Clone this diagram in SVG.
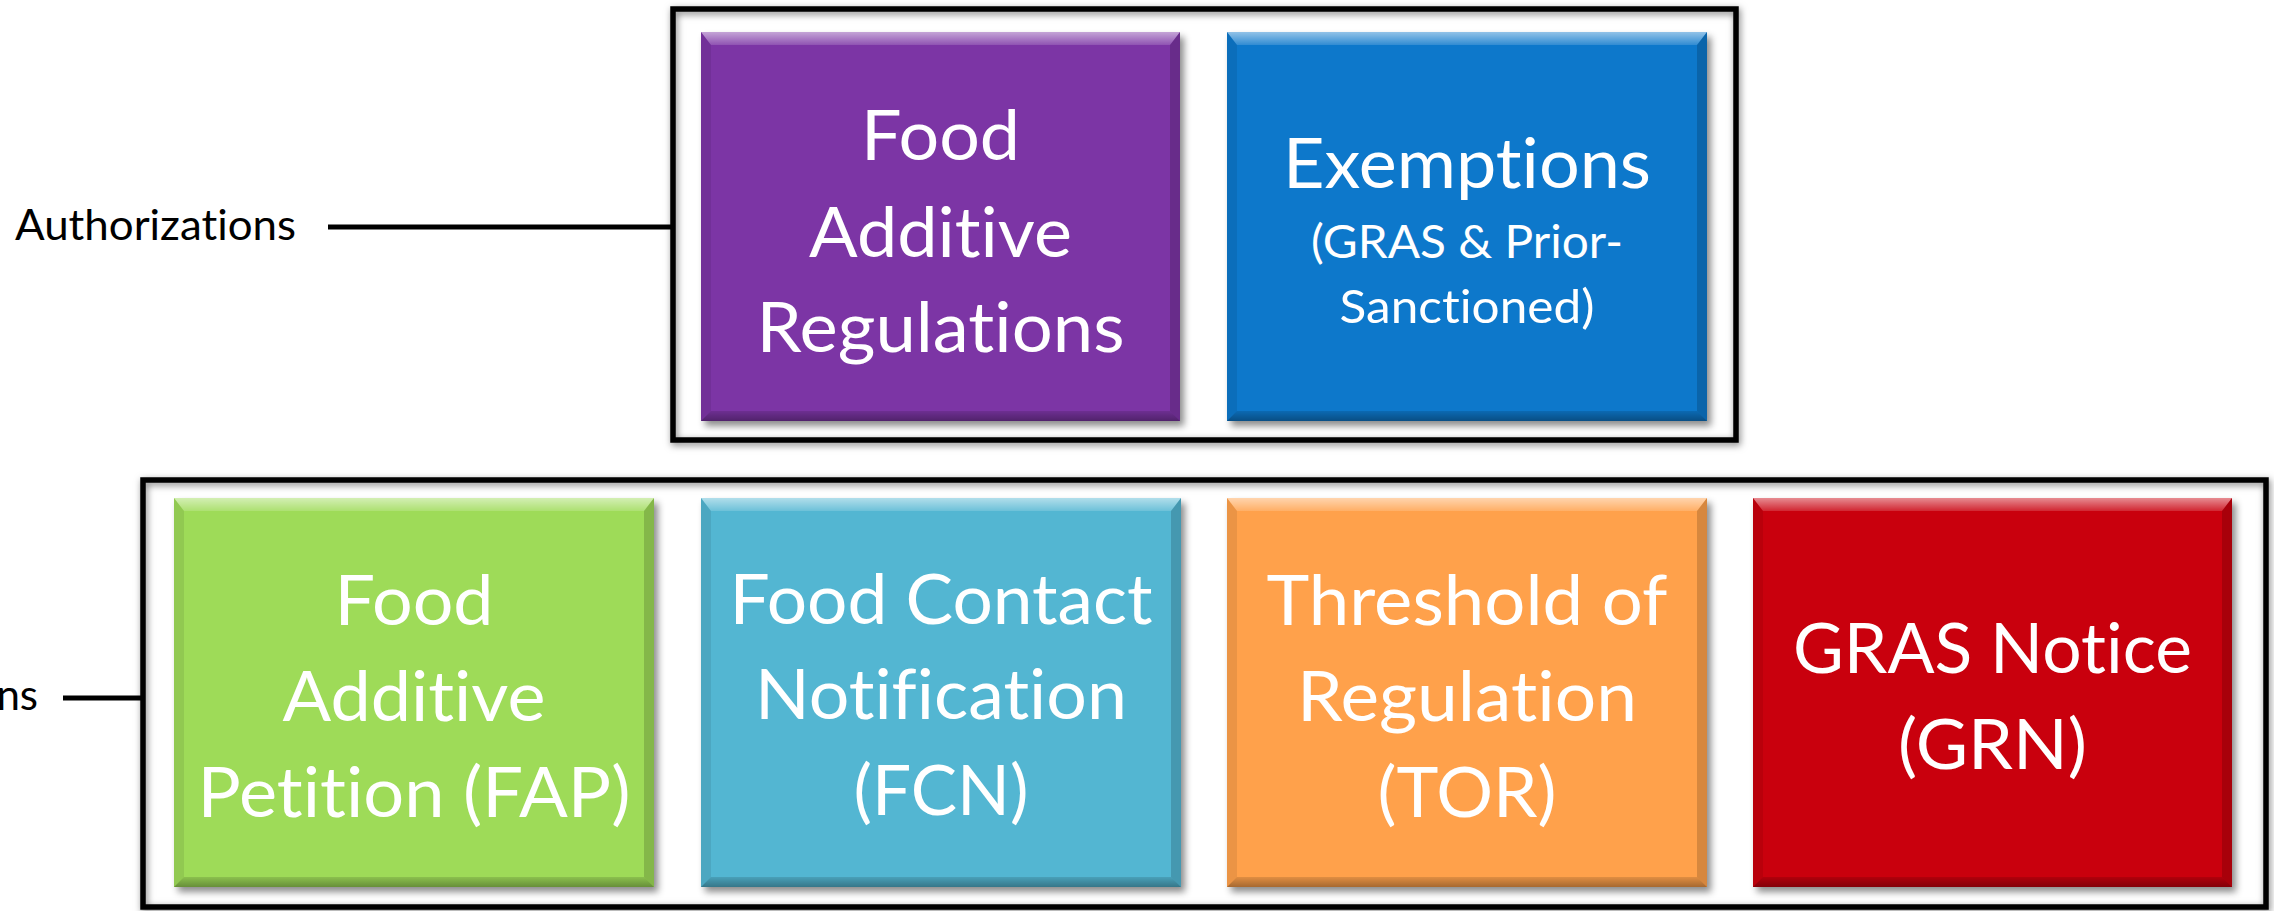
<svg xmlns="http://www.w3.org/2000/svg" width="2274" height="911" viewBox="0 0 2274 911">
  <defs>
    <filter id="boxShadow" x="-10%" y="-10%" width="125%" height="125%">
      <feDropShadow dx="4" dy="5" stdDeviation="3.5" flood-color="#000" flood-opacity="0.45"/>
    </filter>
    <filter id="frameShadow" x="-5%" y="-10%" width="110%" height="125%">
      <feDropShadow dx="1.5" dy="2.5" stdDeviation="3.5" flood-color="#000" flood-opacity="0.5"/>
    </filter>
    <linearGradient id="bevelTop" x1="0" y1="0" x2="0" y2="1">
      <stop offset="0" stop-color="#fff" stop-opacity="0.55"/>
      <stop offset="1" stop-color="#fff" stop-opacity="0.15"/>
    </linearGradient>
    <linearGradient id="bevelBottom" x1="0" y1="0" x2="0" y2="1">
      <stop offset="0" stop-color="#000" stop-opacity="0.12"/>
      <stop offset="1" stop-color="#000" stop-opacity="0.35"/>
    </linearGradient>
  </defs>
  <style>
    text { font-variant-ligatures: none; font-feature-settings: "liga" 0, "clig" 0; }
    .frame { fill: none; stroke: #000; stroke-width: 5.5; }
    .link { stroke: #000; stroke-width: 5; fill: none; }
    .label { font-family: Lato, "Open Sans", "Liberation Sans", sans-serif; font-size: 42px; fill: #000; }
    .big { font-family: Lato, "Open Sans", "Liberation Sans", sans-serif; font-size: 70px; fill: #fff; text-anchor: middle; }
    .small { font-family: Lato, "Open Sans", "Liberation Sans", sans-serif; font-size: 47px; fill: #fff; text-anchor: middle; }
    .top { fill: url(#bevelTop); }
    .bot { fill: url(#bevelBottom); }
    .side { fill: #000; fill-opacity: 0.08; }
    .rside { fill: #000; fill-opacity: 0.16; }
  </style>

  <rect width="2274" height="911" fill="#fff"/>

  <!-- side labels -->
  <g id="label-authorizations">
    <text class="label" x="15" y="240" textLength="281" lengthAdjust="spacingAndGlyphs">Authorizations</text>
  </g>
  <g id="label-submissions">
    <text class="label" x="38" y="710" text-anchor="end">ns</text>
  </g>

  <!-- group frames -->
  <g id="frame-authorizations" filter="url(#frameShadow)">
    <rect class="frame" x="673" y="9" width="1063" height="431"/>
  </g>
  <g id="frame-submissions" filter="url(#frameShadow)">
    <rect class="frame" x="143" y="480" width="2123" height="427"/>
  </g>

  <!-- connectors from labels to frames -->
  <g id="connectors">
    <line class="link" x1="328" y1="227" x2="673" y2="227"/>
    <line class="link" x1="63" y1="698" x2="143" y2="698"/>
  </g>

  <!-- top row -->
  <g id="node-fa-regulations">
    <g filter="url(#boxShadow)"><rect x="701" y="32" width="479" height="389" fill="#7B35A5"/></g>
    <polygon class="top" points="701,32 1180,32 1170,45 711,45"/>
    <polygon class="bot" points="701,421 1180,421 1170,411 711,411"/>
    <polygon class="side" points="701,32 711,45 711,411 701,421"/>
    <polygon class="rside" points="1180,32 1170,45 1170,411 1180,421"/>
    <text class="big" x="940.5" y="160" textLength="159" lengthAdjust="spacingAndGlyphs">Food</text>
    <text class="big" x="940.5" y="257" textLength="263" lengthAdjust="spacingAndGlyphs">Additive</text>
    <text class="big" x="940.5" y="352" textLength="368" lengthAdjust="spacingAndGlyphs">Regulations</text>
  </g>
  <g id="node-exemptions">
    <g filter="url(#boxShadow)"><rect x="1227" y="32" width="480" height="389" fill="#0878CB"/></g>
    <polygon class="top" points="1227,32 1707,32 1697,45 1237,45"/>
    <polygon class="bot" points="1227,421 1707,421 1697,411 1237,411"/>
    <polygon class="side" points="1227,32 1237,45 1237,411 1227,421"/>
    <polygon class="rside" points="1707,32 1697,45 1697,411 1707,421"/>
    <text class="big" x="1467" y="188" textLength="368" lengthAdjust="spacingAndGlyphs">Exemptions</text>
    <text class="small" x="1467" y="258" textLength="312" lengthAdjust="spacingAndGlyphs">(GRAS &amp; Prior-</text>
    <text class="small" x="1467" y="323" textLength="255" lengthAdjust="spacingAndGlyphs">Sanctioned)</text>
  </g>

  <!-- bottom row -->
  <g id="node-fap">
    <g filter="url(#boxShadow)"><rect x="174" y="498" width="480" height="389" fill="#9EDB58"/></g>
    <polygon class="top" points="174,498 654,498 644,511 184,511"/>
    <polygon class="bot" points="174,887 654,887 644,877 184,877"/>
    <polygon class="side" points="174,498 184,511 184,877 174,887"/>
    <polygon class="rside" points="654,498 644,511 644,877 654,887"/>
    <text class="big" x="414" y="625" textLength="159" lengthAdjust="spacingAndGlyphs">Food</text>
    <text class="big" x="414" y="721" textLength="263" lengthAdjust="spacingAndGlyphs">Additive</text>
    <text class="big" x="414" y="817" textLength="433" lengthAdjust="spacingAndGlyphs">Petition (FAP)</text>
  </g>
  <g id="node-fcn">
    <g filter="url(#boxShadow)"><rect x="701" y="498" width="480" height="389" fill="#53B6D2"/></g>
    <polygon class="top" points="701,498 1181,498 1171,511 711,511"/>
    <polygon class="bot" points="701,887 1181,887 1171,877 711,877"/>
    <polygon class="side" points="701,498 711,511 711,877 701,887"/>
    <polygon class="rside" points="1181,498 1171,511 1171,877 1181,887"/>
    <text class="big" x="941" y="624" textLength="423" lengthAdjust="spacingAndGlyphs">Food Contact</text>
    <text class="big" x="941" y="719" textLength="372" lengthAdjust="spacingAndGlyphs">Notification</text>
    <text class="big" x="941" y="815" textLength="175" lengthAdjust="spacingAndGlyphs">(FCN)</text>
  </g>
  <g id="node-tor">
    <g filter="url(#boxShadow)"><rect x="1227" y="498" width="480" height="389" fill="#FFA14C"/></g>
    <polygon class="top" points="1227,498 1707,498 1697,511 1237,511"/>
    <polygon class="bot" points="1227,887 1707,887 1697,877 1237,877"/>
    <polygon class="side" points="1227,498 1237,511 1237,877 1227,887"/>
    <polygon class="rside" points="1707,498 1697,511 1697,877 1707,887"/>
    <text class="big" x="1467" y="625" textLength="401" lengthAdjust="spacingAndGlyphs">Threshold of</text>
    <text class="big" x="1467" y="721" textLength="340" lengthAdjust="spacingAndGlyphs">Regulation</text>
    <text class="big" x="1467" y="817" textLength="179" lengthAdjust="spacingAndGlyphs">(TOR)</text>
  </g>
  <g id="node-grn">
    <g filter="url(#boxShadow)"><rect x="1753" y="498" width="479" height="389" fill="#C90608"/></g>
    <polygon class="top" points="1753,498 2232,498 2222,511 1763,511"/>
    <polygon class="bot" points="1753,887 2232,887 2222,877 1763,877"/>
    <polygon class="side" points="1753,498 1763,511 1763,877 1753,887"/>
    <polygon class="rside" points="2232,498 2222,511 2222,877 2232,887"/>
    <text class="big" x="1992.5" y="673" textLength="399" lengthAdjust="spacingAndGlyphs">GRAS Notice</text>
    <text class="big" x="1992.5" y="769" textLength="189" lengthAdjust="spacingAndGlyphs">(GRN)</text>
  </g>
</svg>
